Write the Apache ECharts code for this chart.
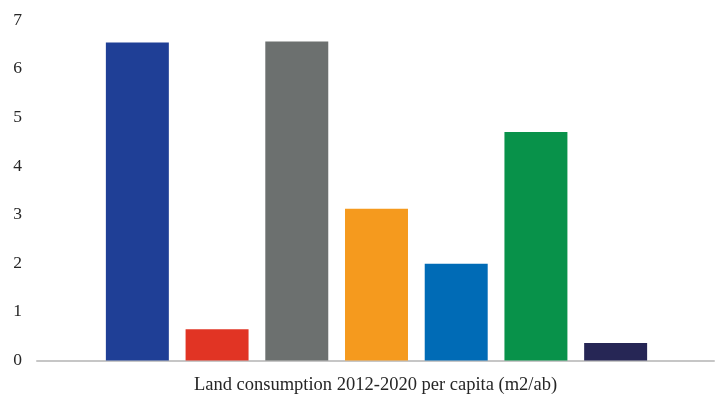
<!DOCTYPE html>
<html>
<head>
<meta charset="utf-8">
<script src="https://cdn.jsdelivr.net/npm/echarts@6/dist/echarts.min.js"></script>
<style>
  html, body { margin: 0; padding: 0; background: #ffffff; }
  #chart { width: 715px; height: 400px; }
</style>
</head>
<body>
<div id="chart"></div>
<script>
// Land consumption per capita, 2012-2020 (m2 per inhabitant)
const categories = ['A', 'B', 'C', 'D', 'E', 'F', 'G'];
const values = [6.54, 0.64, 6.56, 3.12, 1.99, 4.70, 0.36];
const barColors = ['#1f3f96', '#e13424', '#6c706f', '#f59a1e', '#006bb6', '#08924a', '#262655'];
const yTicks = [0, 1, 2, 3, 4, 5, 6, 7];
const axisTitle = 'Land consumption 2012-2020 per capita (m2/ab)';

const FONT = '"Liberation Serif", "Times New Roman", serif';
const TOP = 20;
const BOTTOM = 39.5;

const chart = echarts.init(document.getElementById('chart'));
chart.setOption({
  animation: false,
  backgroundColor: '#ffffff',
  grid: [
    // full-width plot frame: y labels and baseline
    { left: 37, right: 1, top: TOP, bottom: BOTTOM, outerBoundsMode: 'none', containLabel: false },
    // bar band area
    { left: 97.5, width: 558, top: TOP, bottom: BOTTOM, outerBoundsMode: 'none', containLabel: false }
  ],
  xAxis: [
    {
      gridIndex: 0, type: 'value', min: 0, max: 1,
      axisLine: { show: true, onZero: false, lineStyle: { color: '#c6c6c6', width: 2 } },
      axisTick: { show: false }, axisLabel: { show: false }, splitLine: { show: false },
      name: axisTitle, nameLocation: 'middle', nameGap: 15,
      nameTextStyle: { fontFamily: FONT, fontSize: 18.5, color: '#262626', verticalAlign: 'top' }
    },
    {
      gridIndex: 1, type: 'category', data: categories,
      axisLine: { show: false }, axisTick: { show: false }, axisLabel: { show: false }
    }
  ],
  yAxis: [
    {
      gridIndex: 0, type: 'value', min: yTicks[0], max: yTicks[yTicks.length - 1], interval: 1,
      axisLine: { show: false }, axisTick: { show: false }, splitLine: { show: false },
      axisLabel: { fontFamily: FONT, fontSize: 17.5, color: '#262626', margin: 15,
        formatter: v => (yTicks.includes(v) ? String(v) : '') }
    },
    {
      gridIndex: 1, type: 'value', min: yTicks[0], max: yTicks[yTicks.length - 1], interval: 1,
      show: false
    }
  ],
  series: [{
    type: 'bar',
    xAxisIndex: 1, yAxisIndex: 1,
    barCategoryGap: '21%',
    data: values.map((v, i) => ({ value: v, itemStyle: { color: barColors[i] } }))
  }]
});
</script>
</body>
</html>
